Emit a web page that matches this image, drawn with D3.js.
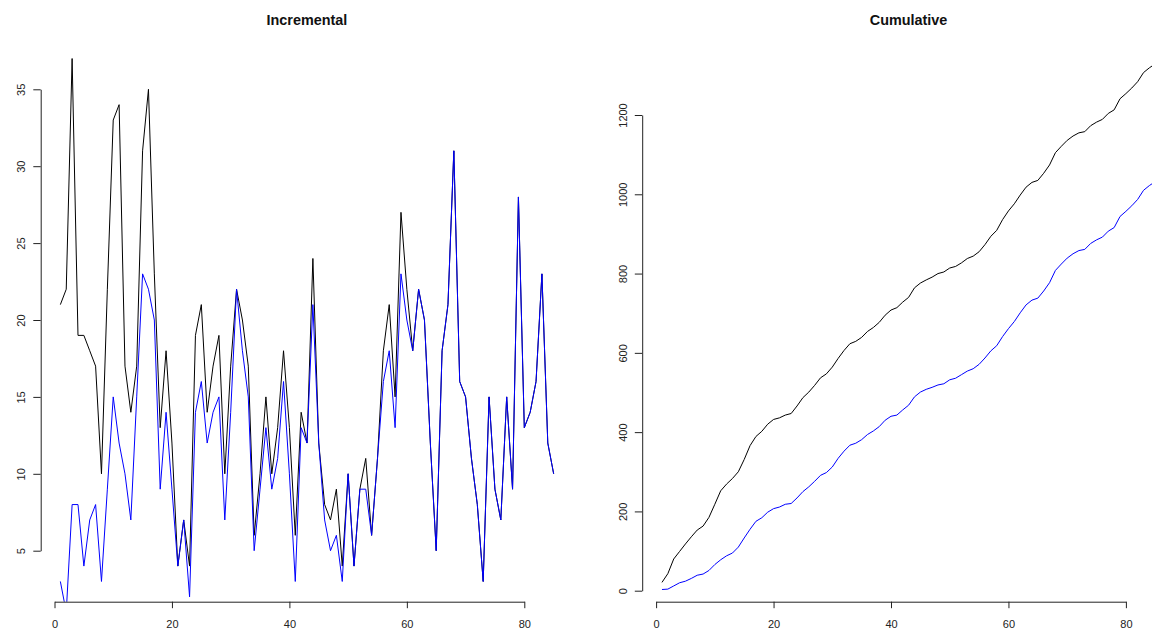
<!DOCTYPE html>
<html>
<head>
<meta charset="utf-8">
<script src="https://cdn.jsdelivr.net/npm/d3@7"></script>
<style>
  html, body { margin: 0; padding: 0; background: #fff; }
  svg { display: block; font-family: "Liberation Sans", Arial, sans-serif; }
</style>
</head>
<body>
<svg id="chart" width="1152" height="630"></svg>
<script>
// ---- data ----
const index = d3.range(1, 86);  // 1..85
const seriesBlack = [21,22,37,19,19,18,17,10,22,33,
                     34,17,14,17,31,35,23,13,18,12,
                     4,7,4,19,21,14,17,19,10,17,
                     22,20,17,6,10,15,10,13,18,13,
                     6,14,12,24,12,8,7,9,4,10,
                     4,9,11,6,11,18,21,15,27,22,
                     18,22,20,12,5,18,21,31,16,15,
                     11,8,3,15,9,7,15,9,28,13,
                     14,16,23,12,10];
const seriesBlue  = [3,1,8,8,4,7,8,3,9,15,
                     12,10,7,15,23,22,20,9,14,9,
                     4,7,2,14,16,12,14,15,7,14,
                     22,18,15,5,9,13,9,11,16,10,
                     3,13,12,21,12,7,5,6,3,10,
                     4,9,9,6,11,16,18,13,23,20,
                     18,22,20,12,5,18,21,31,16,15,
                     11,8,3,15,9,7,15,9,28,13,
                     14,16,23,12,10];
const xTicks = [0, 20, 40, 60, 80];
const yTicksInc = [5, 10, 15, 20, 25, 30, 35];
const yTicksCum = [0, 200, 400, 600, 800, 1000, 1200];
const titles = ["Incremental", "Cumulative"];
const colors = ["#000000", "#0000ff"];

const cumBlack = d3.cumsum(seriesBlack);
const cumBlue = d3.cumsum(seriesBlue);

const svg = d3.select("#chart");

function panel(opt) {
  const g = svg.append("g");
  const x = d3.scaleLinear().domain([0, 80]).range(opt.xRange);
  const y = d3.scaleLinear().domain(opt.yDomain).range(opt.yRange);

  const clipId = "clip" + opt.id;
  svg.append("defs").append("clipPath").attr("id", clipId)
    .append("rect")
    .attr("x", opt.plot[0]).attr("y", opt.plot[1])
    .attr("width", opt.plot[2] - opt.plot[0]).attr("height", opt.plot[3] - opt.plot[1]);

  const line = d3.line().x((d, i) => x(index[i])).y(d => y(d));
  const lines = g.append("g").attr("clip-path", `url(#${clipId})`);
  opt.series.forEach((s, k) => {
    lines.append("path").datum(s)
      .attr("fill", "none").attr("stroke", colors[k]).attr("stroke-width", 1)
      .attr("d", line);
  });

  // x axis
  const xa = g.append("g").attr("transform", `translate(0,${opt.axisY})`)
    .call(d3.axisBottom(x).tickValues(xTicks).tickSize(6.5).tickSizeOuter(0).tickFormat(d3.format("d")));
  xa.selectAll("path, line").attr("stroke", "#222");
  xa.selectAll("text").attr("font-size", 11).attr("fill", "#222").attr("dy", null).attr("y", 26.5);
  xa.attr("font-family", null);

  // y axis
  const ya = g.append("g").attr("transform", `translate(${opt.axisX},0)`)
    .call(d3.axisLeft(y).tickValues(opt.yTicks).tickSize(7.4).tickSizeOuter(0).tickFormat(d3.format("d")));
  ya.selectAll("path, line").attr("stroke", "#222");
  ya.selectAll("text")
    .attr("font-size", 11).attr("fill", "#222")
    .attr("x", null).attr("dy", null)
    .attr("text-anchor", "middle")
    .attr("transform", "translate(-15.5,0) rotate(-90)");
  ya.attr("font-family", null);

  g.append("text")
    .attr("x", (opt.plot[0] + opt.plot[2]) / 2).attr("y", 25)
    .attr("text-anchor", "middle").attr("font-weight", "bold").attr("font-size", 14.4)
    .attr("fill", "#111")
    .text(opt.title);
}

panel({
  id: "L", title: titles[0],
  xRange: [54.5, 524.3], yDomain: [5, 35], yRange: [550.7, 89.3],
  axisX: 40.7, axisY: 601.7, plot: [40.7, 35, 573.2, 601.7],
  yTicks: yTicksInc, series: [seriesBlack, seriesBlue]
});
panel({
  id: "R", title: titles[1],
  xRange: [656.1, 1125.9], yDomain: [0, 1200], yRange: [590.7, 115],
  axisX: 642.2, axisY: 601.7, plot: [642.2, 35, 1175, 601.7],
  yTicks: yTicksCum, series: [cumBlack, cumBlue]
});
</script>
</body>
</html>
